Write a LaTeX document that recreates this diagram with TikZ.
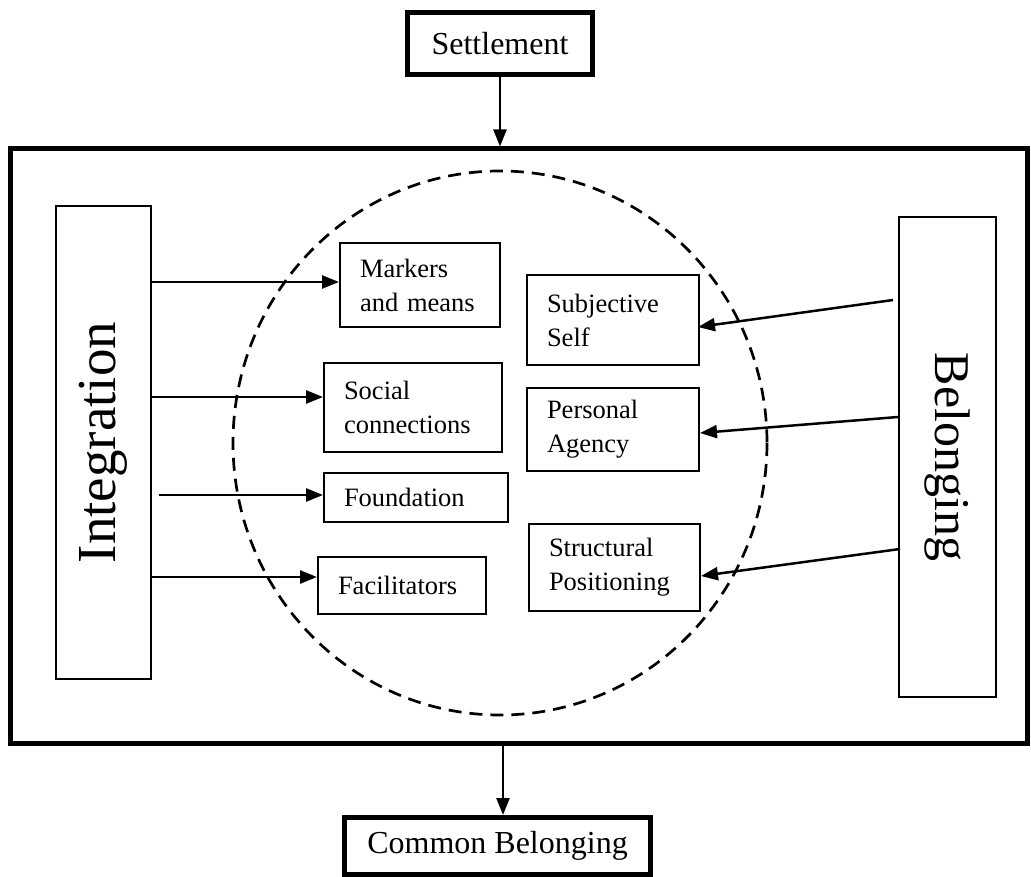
\documentclass[tikz,border=0pt]{standalone}
\usepackage{fontspec}
\setmainfont{Liberation Serif}
\usetikzlibrary{arrows.meta}
\tikzset{
  box/.style={draw=black, line width=2pt, inner sep=0pt},
  thickbox/.style={draw=black, line width=5pt, inner sep=0pt},
  lbox/.style={draw=black, line width=2pt, inner xsep=20pt, inner ysep=0pt, align=left,
    font=\fontsize{26.5}{34}\selectfont},
  arr/.style={line width=2.5pt, -{Triangle[length=17pt,width=13pt]}},
  bigtxt/.style={font=\fontsize{50}{60}\selectfont},
  midtxt/.style={font=\fontsize{32}{38}\selectfont},
}
\begin{document}
\begin{tikzpicture}[x=1pt,y=-1pt]
\useasboundingbox (0,0) rectangle (1031,877);
% outer frame
\node[thickbox, minimum width=1017, minimum height=594] (outer) at (518.5,446) {};
% top and bottom boxes
\node[thickbox, midtxt, minimum width=185, minimum height=62] (settle) at (500,43.5) {Settlement};
\node[thickbox, midtxt, minimum width=306, minimum height=57] (common) at (497.5,846) {Common Belonging};
% dashed circle
\draw[line width=2.7pt, dash pattern=on 13pt off 8pt] (500,443) ellipse [x radius=267, y radius=272];
% side boxes
\node[box, minimum width=95, minimum height=473] (integ) at (103.5,442.5) {};
\node[bigtxt, font=\fontsize{55}{60}\selectfont, rotate=90] (integtxt) at (integ.center) {Integration};
\node[box, minimum width=97, minimum height=480] (belong) at (947.5,457) {};
\node[bigtxt, rotate=-90] (belongtxt) at (belong.center) {Belonging};
% inner boxes
\node[lbox, minimum width=160, minimum height=84, text width=120] (markers) at (420,285) {Markers\\and means};
\node[lbox, minimum width=178, minimum height=89, text width=138] (social) at (413,407.5) {Social\\connections};
\node[lbox, minimum width=184, minimum height=49, text width=144] (found) at (416,497.5) {Foundation};
\node[lbox, minimum width=168, minimum height=57, text width=128] (facil) at (402,585.5) {Facilitators};
\node[lbox, minimum width=172, minimum height=90, text width=132] (subj) at (613,320) {Subjective\\Self};
\node[lbox, minimum width=172, minimum height=83, text width=132] (pers) at (613,429.5) {Personal\\Agency};
\node[lbox, minimum width=171, minimum height=87, text width=131] (struct) at (614.5,567.5) {Structural\\Positioning};
% vertical arrows
\draw[arr] (settle.south) -- (settle.south |- outer.north);
\path ([xshift=5.5pt]common.north) coordinate (c1);
\draw[arr] (outer.south -| c1) -- (c1);
% integration arrows
\path ([yshift=3pt]markers.west) coordinate (m1);
\path ([yshift=10.5pt]social.west) coordinate (s1);
\path ([yshift=2.5pt]found.west) coordinate (f1);
\path ([yshift=8.5pt]facil.west) coordinate (fa1);
\draw[arr] (integ.east |- m1) -- (m1);
\draw[arr] (integ.east |- s1) -- (s1);
\draw[arr] ([xshift=7pt]integ.east |- f1) -- (f1);
\draw[arr] (integ.east |- fa1) -- (fa1);
% belonging arrows
\draw[arr] ([xshift=-5pt,yshift=157pt]belong.west) -- ([xshift=-2pt,yshift=-7pt]subj.east);
\draw[arr] ([yshift=40pt]belong.west) -- ([yshift=-3.5pt]pers.east);
\draw[arr] ([xshift=2pt,yshift=-92pt]belong.west) -- ([yshift=-8.5pt]struct.east);
\end{tikzpicture}
\end{document}
